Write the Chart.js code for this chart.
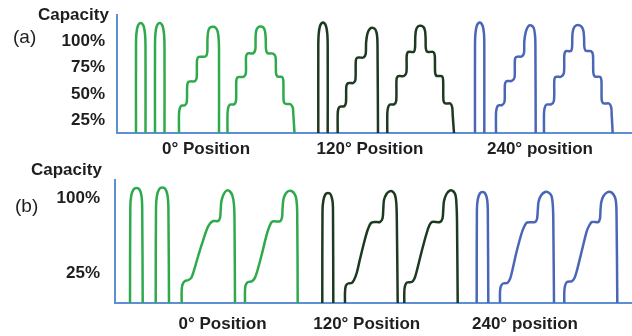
<!DOCTYPE html>
<html>
<head>
<meta charset="utf-8">
<script src="https://cdn.jsdelivr.net/npm/chart.js@4"></script>
<style>
  html, body { margin: 0; padding: 0; background: #fff; }
  #wrap { position: relative; width: 632px; height: 336px; overflow: hidden;
          font-family: "Liberation Sans", Arial, sans-serif; color: #1e1e1e; }
  .panel { position: absolute; left: 0; width: 632px; height: 168px; }
  #panelA { top: 0; }
  #panelB { top: 168px; }
  .lbl { position: absolute; white-space: nowrap; line-height: 1; }
  .cap { font-weight: bold; font-size: 17px; }
  .tag { font-size: 19px; }
</style>
</head>
<body>
<div id="wrap">
  <canvas id="panelA" class="panel" width="632" height="168"></canvas>
  <canvas id="panelB" class="panel" width="632" height="168"></canvas>
  <div class="lbl cap" style="left:38px; top:6px;">Capacity</div>
  <div class="lbl tag" style="left:13px; top:27px;">(a)</div>
  <div class="lbl cap" style="left:31px; top:161px;">Capacity</div>
  <div class="lbl tag" style="left:15px; top:196px;">(b)</div>
</div>
<script>
// ---- tick labels ----
const capacityTicksA = [25, 50, 75, 100];
const capacityTicksB = [25, 100];
const positionLabels = ['0° Position', '120° Position', '240° position'];
const positionTicksA = [206, 370, 540];
const positionTicksB = [222.5, 366.7, 525];

// ---- (a) stepped capacity profiles: [x, capacity %] ----
const a0Pulse1 = [[136,0],[136,82],[136.4,94],[137.8,101.5],[140.7,104.5],[143.6,101.5],[145,94],[145.5,82],[145.5,0]];
const a0Pulse2 = [[155,0],[155,82],[155.4,94],[156.8,101.5],[159.7,104.5],[162.6,101.5],[164,94],[164.5,82],[164.5,0]];
const a0StepSmall = [[179,0],[179,18],[179.8,23.5],[181.5,26],[185,26.3],
  [186.8,29.5],[187.2,45],[188.5,48.7],[191,49],[195,49.2],
  [196.7,52.5],[197,69],[198.3,72],[201,72.4],[205.5,72.6],
  [207.2,76],[207.5,90],[208.5,97.5],[210.5,100.3],[213,100.8],[215.5,100],[217.5,97],[218.6,90],[219,80],[219,0]];
const a0StepLarge = [[227.5,0],[227.5,18],[228.2,24],[230,27],[234,27.2],
  [236,30.5],[236.3,49.5],[237.5,52.8],[240,53.2],[243.5,53.3],
  [245.8,56.5],[246,72],[247.2,75.2],[249.5,75.6],[253,75.6],
  [255.3,79],[255.6,92],[256.5,98],[258.5,100.7],[261,101],[263.5,100],[265,96.5],[265.7,90],
  [266,79.5],[267.2,76],[269.5,75.5],[273,75.4],
  [275.5,72.5],[276,57],[277.2,53.8],[279.5,53.3],[282,53.2],
  [283.3,50],[283.6,31],[284.8,28],[287,27.5],[290.5,27.3],
  [292.8,24],[293.3,18],[294.5,0]];

const a120Pulse = [[318.3,0],[318.3,82],[318.7,94],[320.1,101.8],[323,105],[325.9,101.8],[327.3,94],[327.7,82],[327.7,0]];
const a120StepSmall = [[337.7,0],[337.7,18],[338.4,23],[340.2,25.1],[344,25.3],
  [345.9,28.5],[346.3,44],[347.6,47],[350,47.4],[353.3,47.5],
  [355.4,50.5],[355.8,68.5],[357,71.3],[359.5,71.6],[363.5,71.7],
  [365.7,75],[366.1,86],[367.5,94.5],[370,99],[373,99.8],[375.5,98],[377,93],[377.5,84],[378,0]];
const a120StepLarge = [[387.3,0],[387.3,18],[388,24],[389.8,27],[394,27.2],
  [396.2,30.5],[396.5,50.5],[397.7,53.7],[400,54],[404,54.1],
  [406.4,57.5],[406.7,73.5],[407.9,76.8],[410,77],[413.8,77],
  [415,80.5],[415.3,92],[416.3,98.5],[418.5,101.5],[421,101.8],[423.5,100.5],[425,97],[425.6,90],
  [425.8,80.5],[427,77.3],[429.3,76.9],[433.3,76.9],
  [434.8,73.5],[435.1,57.5],[436.3,54.3],[438.5,54],[442,53.9],
  [443.1,50.5],[443.4,31.5],[444.6,28.3],[447,28],[450.3,28],
  [452.2,24.5],[452.7,17],[454,0]];

const a240Pulse = [[475,0],[475,82],[475.4,94],[476.8,101.8],[479.7,105],[482.6,101.8],[484,94],[484.3,82],[484.3,0]];
const a240StepSmall = [[496,0],[496,18],[496.7,23.5],[498.5,26.2],[502,26.5],
  [504.5,29.5],[504.9,46],[506.2,49],[508.5,49.3],[511.7,49.4],
  [514.5,52.5],[514.9,69.5],[516.2,72.2],[518.5,72.5],[521.7,72.6],
  [524,76],[524.3,87],[525.8,96],[528.3,101.3],[531.3,102],[533.8,99.5],[535,93],[535.4,84],[535.7,0]];
const a240StepLarge = [[544,0],[544,18],[544.7,24],[546.5,27],[551,27.2],
  [553.9,30.5],[554.3,50],[555.5,53.2],[557.5,53.4],[561,53.4],
  [563.9,57],[564.3,74],[565.5,77.5],[567.5,77.8],[571,77.8],
  [572.1,81.5],[572.4,93],[573.5,99],[576,102],[579,102.3],[581.5,101],[583.3,97.5],[584.1,90],
  [584.3,82],[585.5,78.2],[587.5,77.8],[591,77.7],
  [592.9,74.5],[593.3,57.5],[594.5,53.8],[596.5,53.4],[600,53.3],
  [601.4,50],[601.7,31.5],[603,28.3],[605.5,28],[609,28],
  [611.2,24.5],[611.7,17],[612.7,0]];

// ---- (b) ramped capacity profiles: [x, capacity] ----
const b0Pulse1 = [[130,0],[130.3,95],[131.2,107],[133.5,113.5],[136.5,115],[139.5,113.5],[141.5,107],[142.2,95],[142.7,0]];
const b0Pulse2 = [[155.7,0],[156,95],[156.9,107],[159.2,113.8],[162.3,115.5],[165.5,113.8],[167.6,107],[168.4,95],[169,0]];
const b0Ramp1 = [[181.7,0],[181.7,13],[182.5,18.5],[185,22],[188.5,23],[191.5,25.5],[194.5,34.3],[197,43],[201.7,58.3],[206.7,73.3],[210,79.5],[213.5,82],[218,82],[220,85],[220.7,93],[221.3,101],[223.3,108],[226.7,112.5],[230,111.5],[232.5,107],[234,98],[234.5,83],[235,0]];
const b0Ramp2 = [[245,0],[245,13],[245.7,18],[248,21],[251.7,21.7],[254.5,24.5],[256.7,30],[261.7,48.3],[266.7,68.3],[270,78],[272.5,81.5],[280,81.7],[282,85.5],[282.6,95],[283.5,104],[285.5,109],[288.5,112],[291.5,112],[294.3,109.5],[296.3,104],[297.2,91],[297.7,0]];

const b120Pulse = [[322.3,0],[322.5,92],[323.3,102],[325.3,108.5],[328,110],[330.7,108.5],[332.5,102],[333,92],[333.3,0]];
const b120Ramp1 = [[345,0],[345,11],[345.8,17],[348,19.5],[351.7,20],[354,23],[356.7,30],[360,44],[365,64],[368,74],[371,80],[375,81],[380,81],[382.5,84.5],[383.3,94],[384,103],[386.5,109],[389.5,111.7],[392.5,111.5],[395,108],[396.3,100],[396.8,85],[397.7,0]];
const b120Ramp2 = [[404.3,0],[404.3,11],[405,17],[407,20.5],[411.7,21],[414.5,24.5],[416.7,31.7],[421.7,51.7],[426.7,70],[429.5,78],[432,81],[440,81],[442.5,84.5],[443.3,94],[444,102],[446.5,109],[450,112.5],[453.5,111.5],[455.7,107],[456.5,98],[457,83],[457.7,0]];

const b240Pulse = [[476.7,0],[476.9,93],[477.7,103],[479.8,109.5],[482.5,111],[485.2,109.5],[487.2,103],[487.8,93],[488.3,0]];
const b240Ramp1 = [[500,0],[500,11],[500.8,16.5],[503,19.5],[507.3,20],[510,24],[511.7,30],[516.7,51.7],[521.7,70],[524.5,77],[527,80.5],[535,81],[537,84],[537.8,93],[538.5,101],[541,107.5],[545,111],[548.5,110.5],[551.5,107],[552.8,98],[553.3,83],[554,0]];
const b240Ramp2 = [[564.3,0],[564.3,11],[565,17],[567,21],[571.7,21.7],[574.5,25],[576.7,31.7],[581.7,51.7],[586.7,71.7],[589.5,78],[592,81],[598.3,81],[600,84.5],[600.5,93],[601.3,101],[603.5,107],[607,110.5],[610.5,111],[613.5,108.5],[615.7,103],[616.5,91],[617.3,0]];

// ---- styling ----
const GREEN = '#2eaa4c';
const DARK_GREEN = '#1d3a21';
const BLUE = '#4a66b6';
const AXIS = '#5e8fd4';
const INK = '#1e1e1e';
const LABEL_FONT = { family: '"Liberation Sans", Arial, sans-serif', size: 17, weight: 'bold' };

function toDataset(points, color) {
  return {
    data: points.map(([x, y]) => ({ x, y })),
    borderColor: color,
    borderWidth: 2.5,
    pointRadius: 0,
    tension: 0.3,
    fill: false,
    clip: false
  };
}

function drawPanel(canvasId, series, cfg) {
  new Chart(document.getElementById(canvasId), {
    type: 'line',
    data: { datasets: series.map(([pts, color]) => toDataset(pts, color)) },
    options: {
      responsive: false,
      animation: false,
      events: [],
      layout: { padding: { top: cfg.padTop, left: 0, right: 0, bottom: 0 } },
      plugins: { legend: { display: false }, tooltip: { enabled: false } },
      scales: {
        x: {
          type: 'linear',
          bounds: 'data',
          min: cfg.axisLeft,
          max: 632,
          grid: { display: false, drawTicks: false },
          border: { color: AXIS, width: 2 },
          afterBuildTicks: s => { s.ticks = cfg.xTicks.map(v => ({ value: v })); },
          afterFit: s => { s.height = cfg.xAxisHeight; s.paddingLeft = 0; s.paddingRight = 0; },
          ticks: {
            autoSkip: false,
            maxRotation: 0,
            padding: cfg.xPad,
            color: INK,
            font: LABEL_FONT,
            callback: (v, i) => positionLabels[i]
          }
        },
        y: {
          type: 'linear',
          bounds: 'data',
          min: 0,
          max: cfg.yMax,
          grid: { display: false, drawTicks: false },
          border: { color: AXIS, width: 2 },
          afterBuildTicks: s => { s.ticks = cfg.yTicks.map(v => ({ value: v })); },
          afterFit: s => { s.width = cfg.axisLeft; s.paddingTop = 0; s.paddingBottom = 0; },
          ticks: {
            padding: cfg.yPad,
            labelOffset: cfg.yLabelOffset,
            color: INK,
            font: LABEL_FONT,
            callback: v => v + '%'
          }
        }
      }
    }
  });
}

drawPanel('panelA', [
  [a0Pulse1, GREEN], [a0Pulse2, GREEN], [a0StepSmall, GREEN], [a0StepLarge, GREEN],
  [a120Pulse, DARK_GREEN], [a120StepSmall, DARK_GREEN], [a120StepLarge, DARK_GREEN],
  [a240Pulse, BLUE], [a240StepSmall, BLUE], [a240StepLarge, BLUE]
], { padTop: 15, axisLeft: 117, xAxisHeight: 35, xPad: 6, xTicks: positionTicksA,
     yMax: 112, yTicks: capacityTicksA, yPad: 12, yLabelOffset: 13.5 });

drawPanel('panelB', [
  [b0Pulse1, GREEN], [b0Pulse2, GREEN], [b0Ramp1, GREEN], [b0Ramp2, GREEN],
  [b120Pulse, DARK_GREEN], [b120Ramp1, DARK_GREEN], [b120Ramp2, DARK_GREEN],
  [b240Pulse, BLUE], [b240Ramp1, BLUE], [b240Ramp2, BLUE]
], { padTop: 12, axisLeft: 115, xAxisHeight: 33, xPad: 11, xTicks: positionTicksB,
     yMax: 123, yTicks: capacityTicksB, yPad: 15, yLabelOffset: -5 });
</script>
</body>
</html>
